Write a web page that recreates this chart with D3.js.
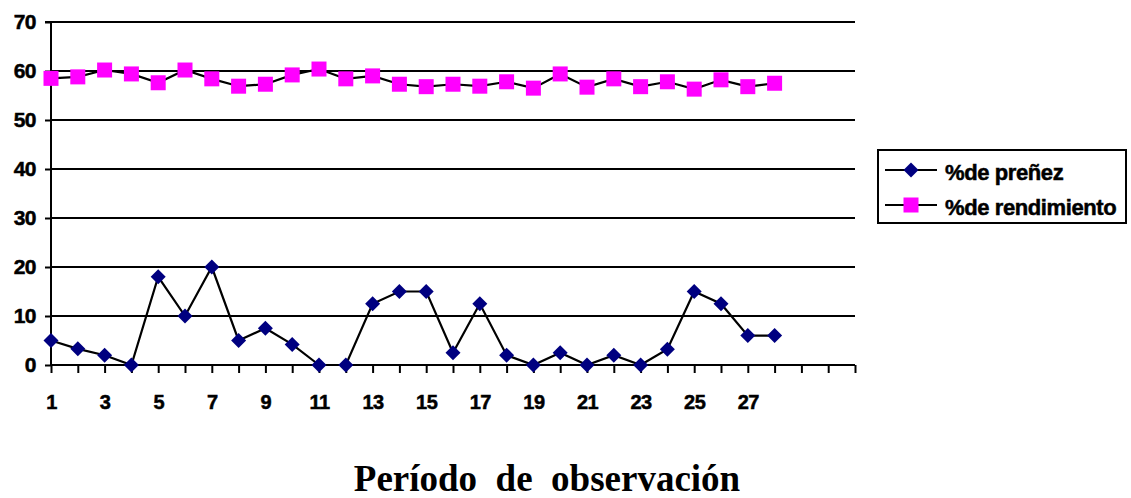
<!DOCTYPE html>
<html>
<head>
<meta charset="utf-8">
<script src="https://cdn.jsdelivr.net/npm/d3@7"></script>
<style>
  html, body { margin: 0; padding: 0; background: #fff; }
  svg { display: block; }
</style>
</head>
<body>
<svg id="chart" width="1131" height="498"></svg>
<script>
const categories = d3.range(1, 32);
const tickLabels = [1, 3, 5, 7, 9, 11, 13, 15, 17, 19, 21, 23, 25, 27];
const yTicks = [0, 10, 20, 30, 40, 50, 60, 70];
const prenez = [5, 3.3, 2, 0, 18, 10, 20, 5, 7.5, 4.2, 0, 0, 12.5, 15, 15, 2.5, 12.5, 2, 0, 2.5, 0, 2, 0, 3.2, 15, 12.5, 6, 6];
const rendimiento = [58.5, 58.8, 60.2, 59.4, 57.6, 60.2, 58.4, 56.9, 57.3, 59.2, 60.4, 58.4, 59.0, 57.3, 56.8, 57.3, 56.9, 57.8, 56.5, 59.4, 56.7, 58.4, 56.8, 57.8, 56.3, 58.2, 56.8, 57.5];
const seriesNames = ["%de preñez", "%de rendimiento"];
const xTitle = "Período  de  observación";

const sans = "Liberation Sans, Arial, sans-serif";
const svg = d3.select("#chart");
const x = d3.scalePoint().domain(categories).range([51, 855]).padding(0);
const y = d3.scaleLinear().domain([0, 70]).range([365, 22]);

// gridlines
svg.append("g").selectAll("line").data(yTicks.filter(d => d > 0)).join("line")
  .attr("x1", x(1)).attr("x2", x(31))
  .attr("y1", d => y(d)).attr("y2", d => y(d))
  .attr("stroke", "#000").attr("stroke-width", 2);

// y axis
const yAxis = svg.append("g").attr("transform", `translate(${x(1)},0)`)
  .call(d3.axisLeft(y).tickValues(yTicks).tickSize(6).tickPadding(9));
yAxis.select(".domain").attr("stroke-width", 2).attr("d", `M-6,${y(70)}H0V${y(0)}`);
yAxis.selectAll(".tick line").attr("stroke-width", 2);
yAxis.selectAll("text").attr("font-family", sans)
  .attr("font-weight", "bold").attr("font-size", 21).attr("fill", "#000")
  .attr("stroke", "#000").attr("stroke-width", 0.5)
  .attr("letter-spacing", -0.5);

// x axis
const xAxis = svg.append("g").attr("transform", `translate(0,${y(0)})`)
  .call(d3.axisBottom(x).tickValues(categories).tickSize(8).tickPadding(22)
    .tickFormat(d => tickLabels.includes(d) ? d : ""));
xAxis.select(".domain").attr("stroke-width", 2).attr("d", `M${x(1)},0H${x(31)}`);
xAxis.selectAll(".tick line").attr("stroke-width", 2);
xAxis.selectAll("text").attr("font-family", sans)
  .attr("font-weight", "bold").attr("font-size", 20).attr("fill", "#000")
  .attr("stroke", "#000").attr("stroke-width", 0.5)
  .attr("letter-spacing", -0.5);

const line = d3.line().x((d, i) => x(i + 1)).y(d => y(d));

// series lines
svg.append("path").datum(prenez).attr("d", line)
  .attr("fill", "none").attr("stroke", "#000").attr("stroke-width", 2.2);
svg.append("path").datum(rendimiento).attr("d", line)
  .attr("fill", "none").attr("stroke", "#000").attr("stroke-width", 2.2);

// markers
const diamond = s => `M0,${-s}L${s},0L0,${s}L${-s},0Z`;
svg.append("g").selectAll("path").data(prenez).join("path")
  .attr("transform", (d, i) => `translate(${x(i + 1)},${y(d)})`)
  .attr("d", diamond(7.5)).attr("fill", "#000080");
svg.append("g").selectAll("rect").data(rendimiento).join("rect")
  .attr("x", (d, i) => x(i + 1) - 7.5).attr("y", d => y(d) - 7.5)
  .attr("width", 15).attr("height", 15).attr("fill", "#FF00FF");

// legend
const lg = svg.append("g");
lg.append("rect").attr("x", 878).attr("y", 150).attr("width", 248).attr("height", 73)
  .attr("fill", "#fff").attr("stroke", "#000").attr("stroke-width", 2);
const rows = [170, 205];
rows.forEach((ry, i) => {
  lg.append("line").attr("x1", 885).attr("x2", 937).attr("y1", ry).attr("y2", ry)
    .attr("stroke", "#000").attr("stroke-width", 2.2);
  if (i === 0) {
    lg.append("path").attr("transform", `translate(911,${ry})`).attr("d", diamond(7.5)).attr("fill", "#000080");
  } else {
    lg.append("rect").attr("x", 903.5).attr("y", ry - 7.5).attr("width", 15).attr("height", 15).attr("fill", "#FF00FF");
  }
  lg.append("text").attr("x", 945).attr("y", ry + 9.5)
    .attr("font-family", sans).attr("font-weight", "bold")
    .attr("font-size", 22).attr("letter-spacing", -0.4).attr("fill", "#000")
    .attr("stroke", "#000").attr("stroke-width", 0.5)
    .style("white-space", "pre")
    .text(seriesNames[i]);
});

// x title
svg.append("text").attr("x", 547).attr("y", 491).attr("text-anchor", "middle")
  .attr("font-family", "Liberation Serif, Times New Roman, serif").attr("font-weight", "bold")
  .attr("font-size", 37).attr("fill", "#000").style("white-space", "pre")
  .text(xTitle);
</script>
</body>
</html>
